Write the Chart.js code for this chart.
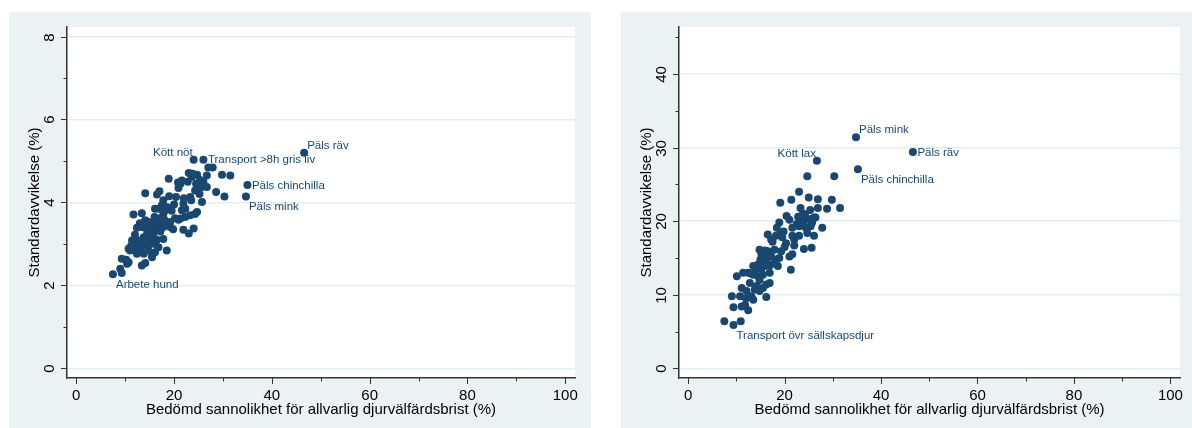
<!DOCTYPE html>
<html>
<head>
<meta charset="utf-8">
<script src="https://cdn.jsdelivr.net/npm/chart.js@4.4.1/dist/chart.umd.min.js"></script>
<style>
body { margin: 0; background: #fff; width: 1192px; height: 428px; overflow: hidden; position: relative; }
.panel { position: absolute; top: 12px; height: 416px; background: #eaf2f3; }
#left { left: 9px; width: 582px; }
#right { left: 621px; width: 571px; }
canvas { display: block; }
</style>
</head>
<body>
<div class="panel" id="left"><canvas id="chartLeft" width="582" height="416"></canvas></div>
<div class="panel" id="right"><canvas id="chartRight" width="571" height="416"></canvas></div>
<script>
// left panel: labelled points first, then the rest
const namesLeft = ['Päls räv', 'Kött nöt', 'Transport >8h gris liv', 'Päls chinchilla', 'Päls mink', 'Arbete hund'];
const probLeft = [46.6, 24.0, 26.0, 35.0, 34.7, 7.5,
    27.0, 27.9, 23.0, 23.8, 24.7, 23.6, 25.3, 26.7, 29.8, 31.5, 18.9, 21.6, 21.3, 20.9,
    24.3, 25.0, 25.7, 26.7, 14.1, 17.0, 16.5, 20.4, 23.3, 28.6, 30.3, 25.7, 17.8, 17.5,
    18.5, 16.8, 18.2, 18.9, 17.8, 16.1, 21.9, 22.3, 21.6, 21.3, 20.9, 22.3, 23.3, 24.3,
    24.7, 19.2, 11.7, 13.4, 14.1, 14.8, 15.5, 16.1, 16.8, 17.5, 17.8, 18.5, 19.2, 12.4,
    13.4, 14.3, 15.1, 15.8, 21.9, 23.0, 24.0, 11.4, 12.1, 12.7, 13.8, 14.8, 15.8, 17.8,
    10.7, 11.0, 11.7, 12.4, 13.1, 14.1, 15.1, 16.1, 16.8, 12.4, 13.8, 15.5, 16.1, 18.5,
    9.3, 10.4, 10.7, 13.4, 14.1, 15.5, 9.0, 9.3,
    12.8, 13.5, 14.5, 15.0, 16.4, 17.2, 16.0, 17.2, 18.0, 19.5, 20.0, 19.0, 20.8, 22.8,
    24.5, 13.0, 12.0, 11.2, 10.2, 14.7, 16.5, 19.8, 20.2, 22.0, 23.5, 25.2, 26.0];
const sdLeft = [5.20, 5.03, 5.03, 4.42, 4.14, 2.27,
    4.84, 4.84, 4.71, 4.69, 4.67, 4.61, 4.54, 4.65, 4.67, 4.65, 4.57, 4.53, 4.45, 4.35,
    4.29, 4.33, 4.37, 4.37, 4.22, 4.27, 4.19, 4.13, 4.13, 4.25, 4.14, 4.01, 4.05, 3.93,
    3.89, 3.85, 3.81, 3.85, 3.72, 3.85, 3.97, 3.85, 3.81, 3.61, 3.58, 3.65, 3.69, 3.72,
    3.77, 3.53, 3.71, 3.74, 3.57, 3.53, 3.49, 3.53, 3.45, 3.49, 3.41, 3.49, 3.41, 3.39,
    3.41, 3.37, 3.33, 3.28, 3.34, 3.25, 3.37, 3.08, 3.04, 3.08, 3.16, 3.12, 3.16, 3.12,
    2.88, 2.84, 2.92, 2.96, 2.92, 2.96, 3.00, 3.00, 2.92, 2.76, 2.76, 2.72, 2.80, 2.84,
    2.64, 2.52, 2.56, 2.48, 2.54, 2.68, 2.40, 2.30,
    2.85, 3.00, 3.25, 3.45, 3.38, 3.30, 3.65, 3.62, 3.58, 3.80, 3.95, 4.15, 4.48, 4.50,
    4.45, 3.50, 3.22, 2.95, 2.62, 2.85, 3.10, 3.35, 3.62, 4.10, 4.05, 4.20, 4.50];

// right panel
const namesRight = ['Päls mink', 'Päls räv', 'Kött lax', 'Päls chinchilla', 'Transport övr sällskapsdjur'];
const probRight = [34.8, 46.6, 26.7, 35.2, 9.4,
    24.7, 30.3, 23.0, 19.1, 21.4, 25.0, 26.9, 29.8, 23.3, 26.9, 28.8, 31.5, 24.2, 26.1,
    20.4, 21.0, 23.3, 24.0, 25.0, 25.7, 26.4, 18.9, 18.4, 21.6, 23.0, 24.4, 25.4, 27.8,
    16.5, 17.2, 18.2, 18.9, 20.3, 21.6, 22.0, 23.0, 24.7, 26.1, 24.0, 25.6, 22.0,
    14.8, 15.2, 15.9, 16.5, 17.2, 17.9, 19.3, 18.2, 18.9, 21.0, 21.6, 21.3,
    13.5, 14.5, 15.2, 15.9, 16.2, 16.9, 17.9, 18.6,
    10.1, 11.4, 12.45, 13.5, 14.5, 14.8, 15.5, 16.2, 16.9,
    11.1, 12.1, 12.8, 13.8, 14.8, 15.5, 9.06, 10.76, 13.1, 13.5, 16.2,
    9.4, 11.1, 12.45, 11.8, 7.5, 10.9,
    13.0, 14.0, 15.0, 16.0, 17.5, 19.5, 22.5, 23.8, 12.0, 14.2, 17.0, 20.0, 22.8, 25.3, 19.8];
const sdRight = [31.4, 29.4, 28.2, 27.05, 5.9,
    26.1, 26.1, 24.0, 22.5, 22.9, 23.2, 22.96, 22.9, 21.8, 21.8, 21.7, 21.8, 20.9, 20.5,
    20.7, 20.2, 20.2, 20.0, 20.3, 19.8, 20.5, 19.8, 19.1, 19.1, 19.3, 19.1, 19.3, 19.1,
    18.2, 17.5, 18.0, 18.2, 17.0, 18.0, 17.5, 18.0, 18.4, 18.0, 16.2, 16.4, 16.7,
    16.1, 15.5, 15.2, 15.9, 15.2, 16.1, 15.9, 14.8, 15.0, 15.2, 15.5, 13.4,
    13.9, 14.1, 13.6, 13.9, 14.5, 13.0, 14.3, 13.9,
    12.5, 13.0, 13.0, 12.7, 12.5, 12.0, 12.7, 11.4, 11.6,
    10.9, 10.5, 11.6, 10.7, 10.5, 10.9, 9.8, 9.8, 9.8, 9.3, 9.7,
    8.3, 8.4, 7.9, 8.6, 6.4, 6.4,
    12.9, 13.2, 14.8, 16.0, 17.2, 17.8, 19.6, 21.0, 9.5, 11.2, 14.0, 16.5, 20.6, 21.5, 18.6];

const navy = '#1a476f';
const fontFamily = '"Liberation Sans", Arial, Helvetica, sans-serif';

// marker label placement, Stata clock positions
const clockOffset = {
    1: { align: 'left', dx: 3, dy: -7 },
    3: { align: 'left', dx: 4.5, dy: 0.5 },
    5: { align: 'left', dx: 3, dy: 10.5 },
    11: { align: 'right', dx: -1, dy: -7 }
};

const markerLabels = {
    id: 'markerLabels',
    afterDatasetsDraw(chart, args, opts) {
        const ctx = chart.ctx;
        const meta = chart.getDatasetMeta(0);
        ctx.save();
        ctx.font = '11.5px ' + fontFamily;
        ctx.fillStyle = navy;
        ctx.textBaseline = 'middle';
        opts.names.forEach((name, i) => {
            const pt = meta.data[i];
            const o = clockOffset[opts.positions[name]];
            ctx.textAlign = o.align;
            ctx.fillText(name, pt.x + o.dx, pt.y + o.dy);
        });
        ctx.restore();
    }
};

// white plot region, tick marks and rotated y labels
const stataAxes = {
    id: 'stataAxes',
    beforeDraw(chart) {
        const a = chart.chartArea;
        chart.ctx.save();
        chart.ctx.fillStyle = '#ffffff';
        chart.ctx.fillRect(a.left, a.top, a.right - a.left, a.bottom - a.top);
        chart.ctx.restore();
    },
    afterDraw(chart, args, opts) {
        const ctx = chart.ctx;
        const a = chart.chartArea;
        const x = chart.scales.x;
        const y = chart.scales.y;
        ctx.save();
        ctx.strokeStyle = '#333';
        ctx.lineWidth = 1;
        x.ticks.forEach(t => {
            const px = Math.round(x.getPixelForValue(t.value)) + 0.5;
            const len = t.value % opts.xMajor === 0 ? 6 : 3.5;
            ctx.beginPath();
            ctx.moveTo(px, a.bottom);
            ctx.lineTo(px, a.bottom + len);
            ctx.stroke();
        });
        y.ticks.forEach(t => {
            const py = Math.round(y.getPixelForValue(t.value)) + 0.5;
            const major = t.value % opts.yMajor === 0;
            const len = major ? 6 : 3.5;
            ctx.beginPath();
            ctx.moveTo(a.left - len, py);
            ctx.lineTo(a.left, py);
            ctx.stroke();
            if (major) {
                ctx.save();
                ctx.translate(a.left - 17, py);
                ctx.rotate(-Math.PI / 2);
                ctx.fillStyle = '#000';
                ctx.font = '15px ' + fontFamily;
                ctx.textAlign = 'center';
                ctx.textBaseline = 'middle';
                ctx.fillText(String(Math.round(t.value)), 0, 0);
                ctx.restore();
            }
        });
        ctx.restore();
    }
};

function makeChart(id, xs, ys, names, positions, yMin, yMax, yStep, yMajor, padRight) {
    const ctx = document.getElementById(id).getContext('2d');
    return new Chart(ctx, {
        type: 'scatter',
        data: {
            datasets: [{
                data: xs.map((v, i) => ({ x: v, y: ys[i] })),
                backgroundColor: navy,
                borderWidth: 0,
                pointRadius: 4,
                pointHoverRadius: 4
            }]
        },
        options: {
            responsive: false,
            animation: false,
            layout: { padding: { top: 15, right: padRight, bottom: 0, left: 0 } },
            plugins: {
                legend: { display: false },
                tooltip: { enabled: false },
                markerLabels: { names: names, positions: positions },
                stataAxes: { xMajor: 20, yMajor: yMajor }
            },
            scales: {
                x: {
                    type: 'linear',
                    min: -1.9,
                    max: 102,
                    afterFit(s) { s.height = 50; },
                    grid: { display: true, drawOnChartArea: false, drawTicks: false },
                    border: { display: true, color: '#333', width: 1.5 },
                    ticks: {
                        stepSize: 10,
                        includeBounds: false,
                        autoSkip: false,
                        maxRotation: 0,
                        padding: 9,
                        color: '#000',
                        font: { family: fontFamily, size: 15 },
                        callback: v => (v % 20 === 0 ? v : '')
                    },
                    title: {
                        display: true,
                        text: 'Bedömd sannolikhet för allvarlig djurvälfärdsbrist (%)',
                        color: '#000',
                        font: { family: fontFamily, size: 15 },
                        padding: { top: 0, bottom: 9 }
                    }
                },
                y: {
                    type: 'linear',
                    min: yMin,
                    max: yMax,
                    afterFit(s) { s.width = 58; },
                    grid: {
                        drawTicks: false,
                        lineWidth: 1.5,
                        color: c => (c.tick && c.tick.value % yMajor === 0 ? '#e4edef' : 'rgba(0,0,0,0)')
                    },
                    border: { display: true, color: '#333', width: 1.5 },
                    ticks: { stepSize: yStep, includeBounds: false, display: false },
                    title: {
                        display: true,
                        text: 'Standardavvikelse (%)',
                        color: '#000',
                        font: { family: fontFamily, size: 15 },
                        padding: { top: 17, bottom: 0 }
                    }
                }
            }
        },
        plugins: [stataAxes, markerLabels]
    });
}

makeChart('chartLeft', probLeft, sdLeft, namesLeft,
    { 'Päls räv': 1, 'Kött nöt': 11, 'Transport >8h gris liv': 3, 'Päls chinchilla': 3, 'Päls mink': 5, 'Arbete hund': 5 },
    -0.234, 8.23, 1, 2, 16);

makeChart('chartRight', probRight, sdRight, namesRight,
    { 'Päls mink': 1, 'Päls räv': 3, 'Kött lax': 11, 'Päls chinchilla': 5, 'Transport övr sällskapsdjur': 5 },
    -1.32, 46.39, 5, 10, 5);
</script>
</body>
</html>
